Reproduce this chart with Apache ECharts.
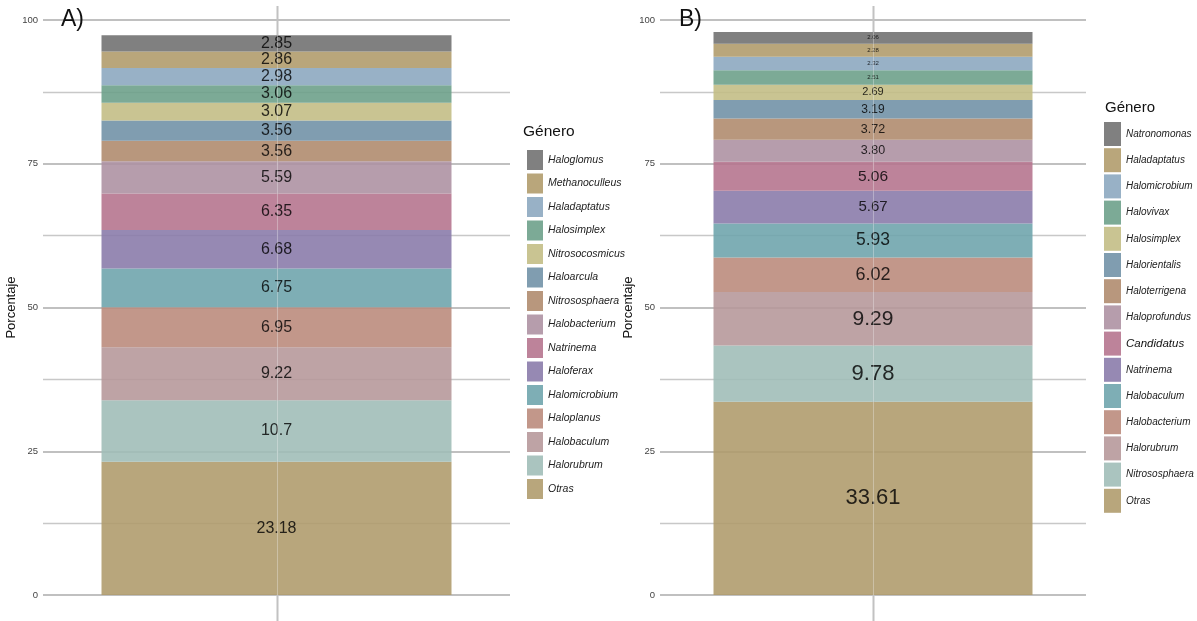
<!DOCTYPE html>
<html>
<head>
<meta charset="utf-8">
<script src="https://cdn.jsdelivr.net/npm/echarts@6/dist/echarts.min.js"></script>
<style>
html,body{margin:0;padding:0;background:#fff;}
#chart{width:1197px;height:621px;}
</style>
</head>
<body>
<div id="chart"></div>
<script>
// ---------- DATA ----------
const generaA = ['Haloglomus','Methanoculleus','Haladaptatus','Halosimplex','Nitrosocosmicus','Haloarcula','Nitrososphaera','Halobacterium','Natrinema','Haloferax','Halomicrobium','Haloplanus','Halobaculum','Halorubrum','Otras'];
const valoresA = [2.85,2.86,2.98,3.06,3.07,3.56,3.56,5.59,6.35,6.68,6.75,6.95,9.22,10.7,23.18];
const generaB = ['Natronomonas','Haladaptatus','Halomicrobium','Halovivax','Halosimplex','Halorientalis','Haloterrigena','Haloprofundus','Candidatus','Natrinema','Halobaculum','Halobacterium','Halorubrum','Nitrososphaera','Otras'];
const valoresB = [2.06,2.28,2.32,2.51,2.69,3.19,3.72,3.80,5.06,5.67,5.93,6.02,9.29,9.78,33.61];
const yTicks = [0,25,50,75,100];
const panelTitles = ['A)','B)'];
const legendTitle = 'Género';
const yName = 'Porcentaje';

// ---------- STYLE ----------
const palette = ['#7f7f7f','#b9a67b','#98b1c6','#7caa95','#c9c492','#7f9cb0','#b8977d','#b69dac','#bd839a','#9689b2','#7eaeb5','#c2978a','#bea3a5','#aac4bf','#b8a67c'];
const labelSizeA = 16;
const labelSizeB = [6,6,6,6,11,12,12.5,12.5,15.5,15,17.5,18,21,22,22];

const FONT = 'Liberation Sans';

const ALPHA = 0.88;
function hexToRgb(h){return [1,3,5].map(i=>parseInt(h.substr(i,2),16));}
function baseColor(h){ // colour that gives the apparent colour on white at ALPHA
  const c=hexToRgb(h).map(v=>Math.max(0,Math.min(255,Math.round((v-255*(1-ALPHA))/ALPHA))));
  return 'rgba('+c.join(',')+','+ALPHA+')';
}
function darkColor(h){
  const c=hexToRgb(h).map(v=>Math.round(v*0.2));
  return 'rgb('+c.join(',')+')';
}

const SUFFIX_B = '\u200b';
const series = [];
function addPanel(names, vals, idx, sizeFn, suffix){
  // stack from bottom (last in legend order) to top
  for (let i = names.length-1; i >= 0; i--) {
    series.push({
      name: names[i] + suffix,
      type: 'bar',
      stack: 'p'+idx,
      xAxisIndex: idx, yAxisIndex: idx,
      barWidth: idx===0 ? 350 : 319,
      data: [vals[i]],
      itemStyle: { color: baseColor(palette[i]) },
      emphasis: { disabled: true },
      label: {
        show: true, position: 'inside',
        formatter: () => (idx===0 ? String(vals[i]) : vals[i].toFixed(2)),
        fontFamily: FONT, fontSize: sizeFn(i),
        color: darkColor(palette[i])
      }
    });
  }
}
addPanel(generaA, valoresA, 0, i => labelSizeA, '');
addPanel(generaB, valoresB, 1, i => labelSizeB[i], SUFFIX_B);

function yAxis(gi, gap){
  return {
    type: 'value', gridIndex: gi, min: yTicks[0], max: yTicks[yTicks.length-1], interval: 25,
    name: yName, nameLocation: 'middle', nameGap: gap,
    nameTextStyle: { fontFamily: FONT, fontSize: 13, color: '#111' },
    axisLine: { show: false }, axisTick: { show: false },
    axisLabel: { fontFamily: FONT, fontSize: 9.5, color: '#444', margin: 5 },
    splitLine: { show: true, lineStyle: { color: '#c0c0c0', width: 2 } },
    minorTick: { show: false, splitNumber: 2 },
    minorSplitLine: { show: true, lineStyle: { color: '#c8c8c8', width: 1.3 } }
  };
}
function xAxis(gi){
  return {
    type: 'category', gridIndex: gi, data: [''],
    axisLine: { show: false }, axisTick: { show: false }, axisLabel: { show: false },
    splitLine: { show: false }
  };
}

function legend(names, suffix, left, top, iw, ih, gap, fs){
  return {
    orient: 'vertical', left: left, top: top,
    data: names.map(n => n + suffix),
    icon: 'rect', itemWidth: iw, itemHeight: ih, itemGap: gap,
    selectedMode: false,
    formatter: n => n.replace(SUFFIX_B,'') === 'Candidatus' ? '{c|Candidatus}' : n.replace(SUFFIX_B,''),
    textStyle: {
      fontFamily: FONT, fontStyle: 'italic', fontSize: fs, color: '#222',
      rich: { c: { fontFamily: FONT, fontStyle: 'italic', fontSize: 11.5, color: '#111' } }
    }
  };
}

const chart = echarts.init(document.getElementById('chart'), null, { renderer: 'canvas' });
const option = {
  animation: false,
  backgroundColor: '#fff',
  title: [
    { text: panelTitles[0], left: 56, top: 3, textStyle: { fontFamily: FONT, fontSize: 23, fontWeight: 'normal', color: '#111' } },
    { text: panelTitles[1], left: 674, top: 3, textStyle: { fontFamily: FONT, fontSize: 23, fontWeight: 'normal', color: '#111' } },
    { text: legendTitle, left: 518, top: 119, textStyle: { fontFamily: FONT, fontSize: 15.5, fontWeight: 'normal', color: '#111' } },
    { text: legendTitle, left: 1100, top: 95, textStyle: { fontFamily: FONT, fontSize: 15, fontWeight: 'normal', color: '#111' } }
  ],
  grid: [
    { left: 43, right: 687, top: 20, bottom: 26, containLabel: false },
    { left: 660, right: 111, top: 20, bottom: 26, containLabel: false }
  ],
  xAxis: [xAxis(0), xAxis(1)],
  yAxis: [yAxis(0, 21), yAxis(1, 19)],
  legend: [
    legend(generaA, '', 522, 145, 16, 20, 3.5, 10.5),
    legend(generaB, SUFFIX_B, 1099, 117, 17, 24, 2.2, 10)
  ],
  series: series
};
chart.setOption(option);

// centre vertical grid lines, computed from the category axis and stack totals
const totals = [valoresA, valoresB].map(v => v.reduce((a, b) => a + b, 0));
const graphics = [];
[0,1].forEach(gi => {
  const x = Math.round(chart.convertToPixel({ xAxisIndex: gi }, 0)) + 0.5;
  const yTop = chart.convertToPixel({ yAxisIndex: gi }, yTicks[yTicks.length-1]);
  const yZero = chart.convertToPixel({ yAxisIndex: gi }, 0);
  const yBar = chart.convertToPixel({ yAxisIndex: gi }, totals[gi]);
  graphics.push({
    type: 'line', z: 0, silent: true,
    shape: { x1: x, y1: yTop-14, x2: x, y2: 621 },
    style: { stroke: '#c2c2c2', lineWidth: 2 }
  });
  graphics.push({
    type: 'line', z: 100, silent: true,
    shape: { x1: x, y1: yBar, x2: x, y2: yZero },
    style: { stroke: 'rgba(255,255,255,0.35)', lineWidth: 1.2 }
  });
});
chart.setOption({ graphic: graphics });
</script>
</body>
</html>
